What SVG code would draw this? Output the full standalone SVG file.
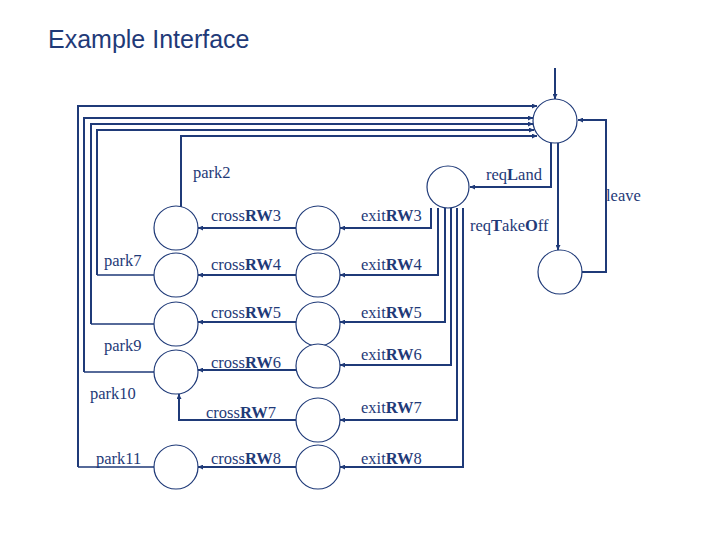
<svg xmlns="http://www.w3.org/2000/svg" width="720" height="540" viewBox="0 0 720 540">
<style>
.n{fill:#fff;stroke:#1f3a78;stroke-width:1.2}
.e{fill:none;stroke:#1f3a78;stroke-width:1.3}
.a{fill:none;stroke:#1f3a78;stroke-width:2;marker-end:url(#m)}
.t{font-family:"Liberation Serif",serif;font-size:16.5px;fill:#1f3a78}
.b{font-weight:bold}
</style>
<defs><marker id="m" viewBox="0 0 10 10" refX="10" refY="5" markerWidth="5" markerHeight="5" orient="auto" markerUnits="userSpaceOnUse"><path d="M0,0L10,5L0,10z" fill="#1f3a78"/></marker></defs>
<rect width="720" height="540" fill="#fff"/>
<text x="48" y="48" font-family="Liberation Sans,sans-serif" font-size="25" fill="#1f3a78">Example Interface</text>
<g id="connectors">
<path class="a" d="M555,68V99"/>
<path class="a" d="M78,467V106H537"/>
<path class="a" d="M84,372V118H533"/>
<path class="a" d="M91,324V124H533"/>
<path class="a" d="M97,275V130H534"/>
<path class="a" d="M181,207V136H537"/>
<path class="a" d="M551,142V187H470"/>
<path class="a" d="M558,143V250"/>
<path class="a" d="M582,272H606V120H578"/>
<path class="a" d="M431,208V228H340"/>
<path class="a" d="M438,208V275H340"/>
<path class="a" d="M445,208V322H340"/>
<path class="a" d="M451,208V365H340"/>
<path class="a" d="M457,208V420H340"/>
<path class="a" d="M463,208V467H340"/>
<path class="a" d="M296,228H198"/>
<path class="a" d="M296,275H198"/>
<path class="a" d="M296,322H198"/>
<path class="a" d="M296,370H198"/>
<path class="a" d="M296,420H179V394"/>
<path class="a" d="M296,467H198"/>
<path class="e" d="M78,467H154M84,372H154M91,324H154M97,275H154"/>
</g>
<g id="top"><circle class="n" cx="555" cy="121" r="22"/></g>
<g id="land"><circle class="n" cx="448" cy="187" r="21"/></g>
<g id="takeoff"><circle class="n" cx="560" cy="272" r="22"/></g>
<g id="c3"><circle class="n" cx="176" cy="228" r="22"/></g>
<g id="c4"><circle class="n" cx="176" cy="275" r="22"/></g>
<g id="c5"><circle class="n" cx="176" cy="324" r="22"/></g>
<g id="c6"><circle class="n" cx="176" cy="372" r="22"/></g>
<g id="c8"><circle class="n" cx="176" cy="467" r="22"/></g>
<g id="e3"><circle class="n" cx="318" cy="228" r="22"/></g>
<g id="e4"><circle class="n" cx="318" cy="275" r="22"/></g>
<g id="e5"><circle class="n" cx="318" cy="324" r="22"/></g>
<g id="e6"><circle class="n" cx="318" cy="366" r="22"/></g>
<g id="e7"><circle class="n" cx="318" cy="420" r="22"/></g>
<g id="e8"><circle class="n" cx="318" cy="467" r="22"/></g>
<g class="t">
<text x="193" y="178">park2</text>
<text x="486" y="180">req<tspan class="b">L</tspan>and</text>
<text x="606" y="201">leave</text>
<text x="470" y="231">req<tspan class="b">T</tspan>ake<tspan class="b">O</tspan>ff</text>
<text x="211" y="221">cross<tspan class="b">RW</tspan>3</text>
<text x="361" y="221">exit<tspan class="b">RW</tspan>3</text>
<text x="104" y="266">park7</text>
<text x="211" y="270">cross<tspan class="b">RW</tspan>4</text>
<text x="361" y="270">exit<tspan class="b">RW</tspan>4</text>
<text x="211" y="318">cross<tspan class="b">RW</tspan>5</text>
<text x="361" y="318">exit<tspan class="b">RW</tspan>5</text>
<text x="104" y="351">park9</text>
<text x="211" y="368">cross<tspan class="b">RW</tspan>6</text>
<text x="361" y="360">exit<tspan class="b">RW</tspan>6</text>
<text x="90" y="399">park10</text>
<text x="206" y="418">cross<tspan class="b">RW</tspan>7</text>
<text x="361" y="413">exit<tspan class="b">RW</tspan>7</text>
<text x="96" y="464">park11</text>
<text x="211" y="464">cross<tspan class="b">RW</tspan>8</text>
<text x="361" y="464">exit<tspan class="b">RW</tspan>8</text>
</g>
</svg>
